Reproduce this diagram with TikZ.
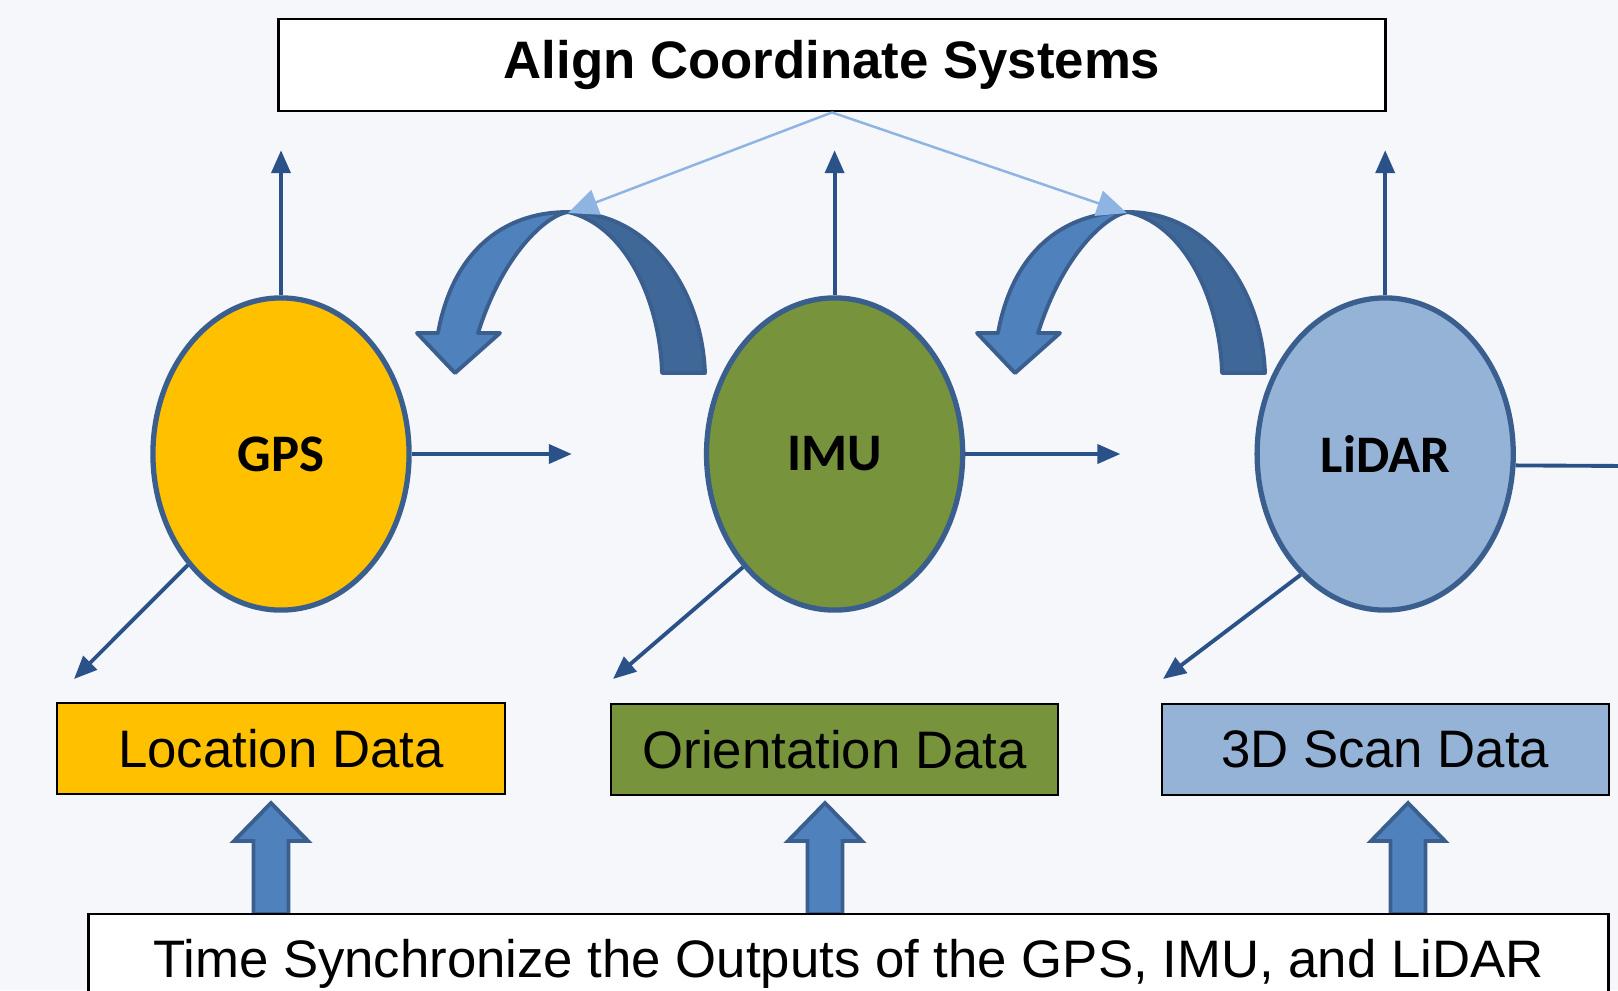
\documentclass[tikz,border=0pt]{standalone}
\usepackage{fontspec}
\setmainfont{Liberation Sans}
\newfontfamily\carlito{Carlito}
\usepackage{tikz}
\usetikzlibrary{shapes.geometric,positioning,arrows.meta}

\definecolor{bgcol}{HTML}{F5F7FA}
\definecolor{gold}{HTML}{FFC000}
\definecolor{olive}{HTML}{77933C}
\definecolor{sky}{HTML}{95B3D7}
\definecolor{navy}{HTML}{2A5288}
\definecolor{rim}{HTML}{3A5F8E}
\definecolor{steel}{HTML}{4F81BD}
\definecolor{steeldark}{HTML}{3F6797}
\definecolor{pale}{HTML}{8DB4E2}

\tikzset{
  sensor/.style={ellipse,draw=rim,line width=1.5pt,minimum width=25.6mm,minimum height=31.2mm,
    inner sep=0pt,font=\carlito\bfseries\fontsize{15}{18}\selectfont},
  databox/.style={draw=black,line width=0.6pt,minimum width=44.7mm,minimum height=9.1mm,
    inner sep=0pt,font=\fontsize{15}{18}\selectfont},
  banner/.style={draw=black,fill=white,line width=0.8pt,inner sep=0pt,font=\fontsize{15}{18}\selectfont},
  link/.style={-{Triangle[length=2.3mm,width=1.9mm]},draw=navy,line width=1.1pt},
  feed/.style={-{Triangle[length=3mm,width=2.6mm]},draw=pale,line width=0.7pt},
  swoop/.pic={
    \filldraw[fill=steel,draw=rim,line width=1.1pt,line join=round]
      (-130,121) .. controls (-116,43) and (-68,0) .. (0,0)
      .. controls (-18,2) and (-63,36) .. (-90,121)
      -- (-68,121) -- (-113,161) -- (-151,121) -- cycle;
    \filldraw[fill=steeldark,draw=rim,line width=1.1pt,line join=round]
      (0,0) .. controls (82,0) and (134,78) .. (137,161)
      -- (94,161) .. controls (92,88) and (57,13) .. (0,0) -- cycle;
  },
  lift/.pic={
    \filldraw[fill=steel,draw=rim,line width=1.1pt,line join=miter]
      (0,0) -- (37,38) -- (17.5,38) -- (17.5,111) -- (-17.5,111) -- (-17.5,38) -- (-37,38) -- cycle;
  }
}

\begin{document}
\begin{tikzpicture}[x=0.01cm,y=-0.01cm]
\clip (0,0) rectangle (1618,990);
\fill[bgcol] (0,0) rectangle (1618,990);

\node[banner,minimum width=110.6mm,minimum height=9.2mm,font=\bfseries\fontsize{15}{18}\selectfont] (align) at (832,65) {Align Coordinate Systems};

\pic at (568,212) {swoop};
\pic at (1128,212) {swoop};
\coordinate (archL) at (568,213);
\coordinate (archR) at (1127,213);
\draw[feed] (align.south) -- (archL);
\draw[feed] (align.south) -- (archR);

\node[sensor,fill=gold] (gps) at (281,454) {GPS};
\node[sensor,fill=olive] (imu) [right=29.2mm of gps] {IMU};
\node[sensor,fill=sky] (lidar) [right=28.9mm of imu] {LiDAR};

\coordinate[above=14.5mm of gps] (gpsup);
\coordinate[above=14.5mm of imu] (imuup);
\coordinate[above=14.5mm of lidar] (lidarup);
\coordinate[right=16mm of gps] (gpsout);
\coordinate[right=15.5mm of imu] (imuout);
\coordinate (lidarout) at (1630,466);
\coordinate (gpsdown) at (74,679);
\coordinate (imudown) at (613,679);
\coordinate (lidardown) at (1163,679);

\draw[link] (gps.north) -- (gpsup);
\draw[link] (imu.north) -- (imuup);
\draw[link] (lidar.north) -- (lidarup);
\draw[link] (gps.east) -- (gpsout);
\draw[link] (imu.east) -- (imuout);
\draw[navy,line width=1.1pt] (lidar.-5) -- (lidarout);
\draw[link] (gps.230) -- (gpsdown);
\draw[link] (imu.231) -- (imudown);
\draw[link] (lidar.235) -- (lidardown);

\node[databox,fill=gold] (loc) [below=8.9mm of gps] {Location Data};
\node[databox,fill=olive] (orient) [below=9.0mm of imu] {Orientation Data};
\node[databox,fill=sky] (scan) [below=9.0mm of lidar] {3D Scan Data};

\pic at (271,803) {lift};
\pic at (825,803) {lift};
\pic at (1408,803) {lift};

\node[banner,minimum width=151.9mm,minimum height=10mm] (sync) at (848.5,964) {Time Synchronize the Outputs of the GPS, IMU, and LiDAR};
\end{tikzpicture}
\end{document}
